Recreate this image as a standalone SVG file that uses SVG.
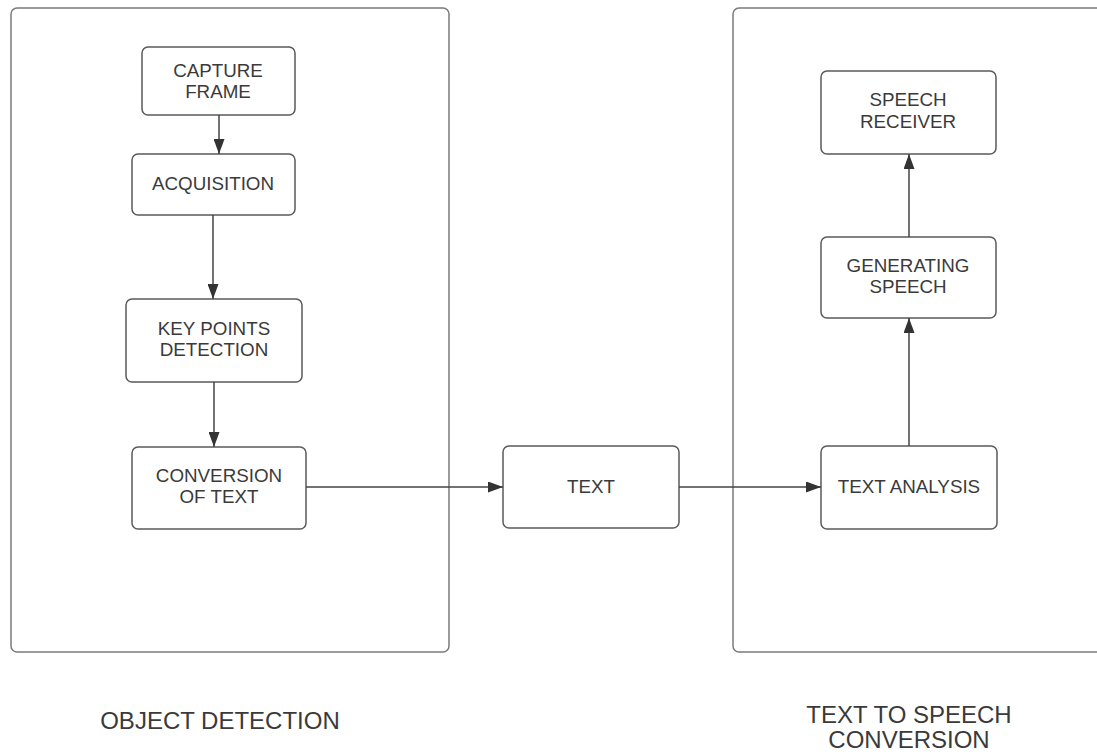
<svg xmlns="http://www.w3.org/2000/svg" width="1097" height="756" viewBox="0 0 1097 756">
<style>
.container{fill:none;stroke:#7a7a7a;stroke-width:1.5}
.node rect{fill:#fff;stroke:#5a5a5a;stroke-width:1.5}
text{font-family:"Liberation Sans",Arial,sans-serif;fill:#3a3a3a;text-anchor:middle}
.nt{font-size:18.8px}
.lt{font-size:24px}
.conn{stroke:#444;stroke-width:1.5;fill:none;marker-end:url(#arr)}
</style>
<defs>
<marker id="arr" viewBox="0 0 15 11" refX="15" refY="5.5" markerWidth="15" markerHeight="11" markerUnits="userSpaceOnUse" orient="auto">
<path d="M0,0 L15,5.5 L0,11 Z" fill="#333"/>
</marker>
</defs>
<rect width="1097" height="756" fill="#fff"/>
<g id="object-detection">
<rect class="container" x="11" y="8" width="438" height="644" rx="6"/>
<text class="lt" x="220" y="729">OBJECT DETECTION</text>
</g>
<g id="tts-conversion">
<rect class="container" x="733" y="8" width="380" height="644" rx="6"/>
<text class="lt" x="909" y="723">TEXT TO SPEECH</text>
<text class="lt" x="909" y="748">CONVERSION</text>
</g>
<g id="capture-frame" class="node">
<rect x="142" y="47" width="153" height="68" rx="6"/>
<text class="nt" x="218" y="77">CAPTURE</text>
<text class="nt" x="218" y="98">FRAME</text>
</g>
<g id="acquisition" class="node">
<rect x="132" y="154" width="163" height="61" rx="6"/>
<text class="nt" x="213" y="190">ACQUISITION</text>
</g>
<g id="key-points" class="node">
<rect x="126" y="299" width="176" height="83" rx="6"/>
<text class="nt" x="214" y="335">KEY POINTS</text>
<text class="nt" x="214" y="356">DETECTION</text>
</g>
<g id="conversion-of-text" class="node">
<rect x="132" y="447" width="174" height="82" rx="6"/>
<text class="nt" x="219" y="482">CONVERSION</text>
<text class="nt" x="219" y="503">OF TEXT</text>
</g>
<g id="text" class="node">
<rect x="503" y="446" width="176" height="82" rx="6"/>
<text class="nt" x="591" y="493">TEXT</text>
</g>
<g id="text-analysis" class="node">
<rect x="821" y="446" width="176" height="83" rx="6"/>
<text class="nt" x="909" y="493">TEXT ANALYSIS</text>
</g>
<g id="generating-speech" class="node">
<rect x="821" y="237" width="175" height="81" rx="6"/>
<text class="nt" x="908" y="272">GENERATING</text>
<text class="nt" x="908" y="293">SPEECH</text>
</g>
<g id="speech-receiver" class="node">
<rect x="821" y="71" width="175" height="83" rx="6"/>
<text class="nt" x="908" y="106">SPEECH</text>
<text class="nt" x="908" y="128">RECEIVER</text>
</g>
<g id="connectors">
<line class="conn" x1="219" y1="115" x2="219" y2="154"/>
<line class="conn" x1="213" y1="215" x2="213" y2="299"/>
<line class="conn" x1="214" y1="382" x2="214" y2="447"/>
<line class="conn" x1="306" y1="487" x2="503" y2="487"/>
<line class="conn" x1="679" y1="487" x2="821" y2="487"/>
<line class="conn" x1="909" y1="446" x2="909" y2="318"/>
<line class="conn" x1="909" y1="237" x2="909" y2="154"/>
</g>
</svg>
